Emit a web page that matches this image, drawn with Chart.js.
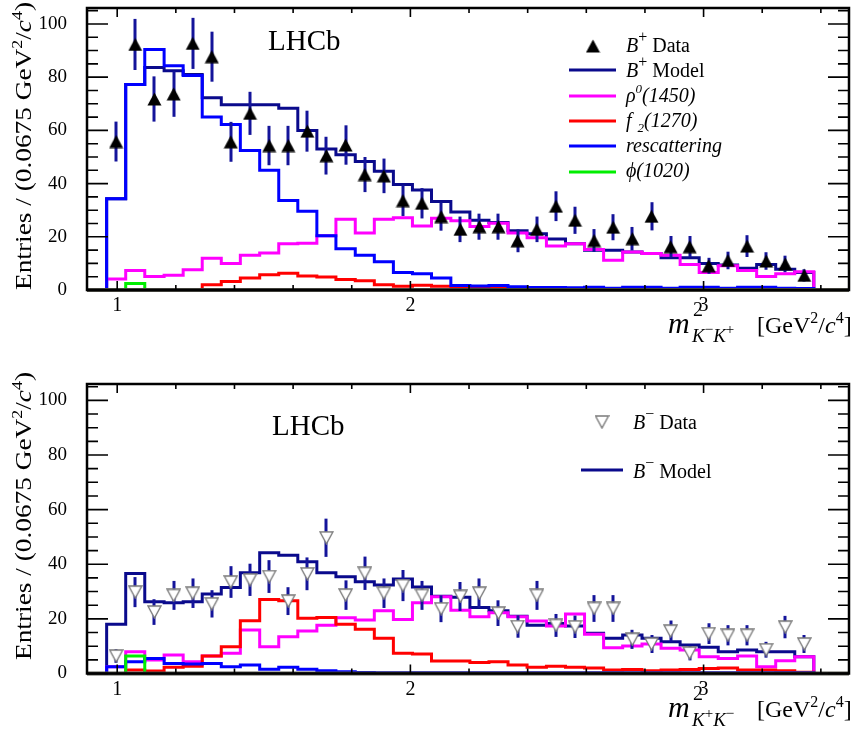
<!DOCTYPE html>
<html><head><meta charset="utf-8">
<script src="https://cdn.jsdelivr.net/npm/chart.js@4.4.1/dist/chart.umd.min.js"></script>
<style>
html,body{margin:0;padding:0;background:#fff;}
#wrap{position:relative;width:857px;height:740px;overflow:hidden;}
.pane{position:absolute;left:0;width:857px;height:370px;}
canvas{display:block;}
</style></head><body>
<div id="wrap">
<div class="pane" style="top:0"><canvas id="c1" width="857" height="370"></canvas></div>
<div class="pane" style="top:370px"><canvas id="c2" width="857" height="370"></canvas></div>
</div>
<script>
// ---------- data ----------
const binEdges = [0.964,1.029,1.094,1.160,1.225,1.290,1.355,1.420,1.486,1.551,1.616,1.681,1.746,1.812,1.877,1.942,2.007,2.072,2.138,2.203,2.268,2.333,2.398,2.464,2.529,2.594,2.659,2.724,2.790,2.855,2.920,2.985,3.050,3.116,3.181,3.246,3.311,3.376];
const xTickValues = [1,2,3];
const yTickValues = [0,20,40,60,80,100];

// B+ panel
const plusData  = [55.8,92.3,71.8,73.7,92.7,87.7,55.7,66.4,54.3,54.3,59.7,50.5,54.5,43.4,42.9,33.6,32.6,27.6,22.8,23.8,23.8,18.5,22.8,31.5,26.2,18.6,23.6,19.3,27.7,16.3,16.3,9.1,11.1,16.5,10.9,9.8,5.5];
const plusErr   = [7.5,9.6,8.5,8.6,9.6,9.4,7.5,8.1,7.4,7.4,7.7,7.1,7.4,6.6,6.5,5.8,5.7,5.3,4.8,4.9,4.9,4.3,4.8,5.6,5.1,4.3,4.9,4.4,5.3,4.0,4.0,3.0,3.3,4.1,3.3,3.1,2.3];
const plusModel = [34.3,77.2,83.6,82.4,81.0,72.3,69.6,69.6,69.6,68.3,60.0,53.0,50.8,48.3,44.6,39.7,37.6,33.3,29.3,26.2,25.4,22.3,21.1,19.2,17.4,14.9,14.9,14.3,13.7,12.1,12.1,10.0,9.4,8.2,9.6,7.8,6.6];
const plusRho   = [4.1,7.3,5.1,5.5,7.6,11.9,10.0,13.1,13.9,17.4,17.6,20.4,26.6,21.4,26.6,27.2,24.1,27.0,26.0,23.9,25.1,21.4,19.6,16.5,17.4,15.2,11.2,14.3,13.7,13.1,9.6,6.6,9.1,7.3,5.1,6.1,6.9];
const plusF2    = [0,0,0,0,0,2.0,3.2,4.5,5.7,6.3,5.3,4.9,3.9,3.5,2.0,1.4,1.8,1.4,1.0,0.9,0.8,0.7,0.6,0.5,0.5,0.4,0.4,0.4,0.3,0.3,0.3,0.3,0.2,0.2,0.2,0.2,0.2];
const plusResc  = [34.3,77.2,90.4,84.3,80.6,65.0,62.2,52.4,45.0,33.6,29.6,20.4,15.5,13.1,10.6,6.6,6.1,4.5,1.7,1.5,1.7,1.2,0.9,0.9,0.8,1.0,0.7,1.0,1.0,0.7,1.0,1.0,0.7,1.0,1.0,0.7,0.6];
const plusPhi   = [0,2.4,0,0,0,0,0,0,0,0,0,0,0,0,0,0,0,0,0,0,0,0,0,0,0,0,0,0,0,0,0,0,0,0,0,0,0];

// B- panel
const minusData  = [6.4,29.8,22.5,28.6,29.4,25.5,33.5,34.3,35.5,26.5,36.5,49.7,28.7,36.7,29.4,32.2,28.6,23.7,28.2,29.4,22.1,17.2,28.6,17.6,17.1,23.8,23.8,12.5,10.8,15.5,7.5,14.6,14.0,14.0,8.7,17.0,10.8];
const minusErr   = [2.5,5.5,4.7,5.3,5.4,5.0,5.8,5.9,6.0,5.1,6.0,7.0,5.4,6.1,5.4,5.7,5.3,4.9,5.3,5.4,4.7,4.1,5.3,4.2,4.1,4.9,4.9,3.5,3.3,3.9,2.7,3.8,3.7,3.7,2.9,4.1,3.3];
const minusModel = [18.0,36.6,26.3,25.9,26.3,29.1,31.5,36.9,44.2,43.3,40.9,36.9,35.4,33.6,32.4,34.6,31.7,28.3,27.9,24.2,23.0,21.0,17.7,18.3,17.4,14.7,12.9,14.1,12.9,11.6,10.4,9.6,8.0,8.6,8.0,8.0,6.1];
const minusRho   = [2.5,8.0,4.9,6.8,4.3,6.4,7.4,15.9,9.8,13.5,15.6,17.7,20.4,19.6,23.0,19.8,25.9,28.1,23.2,20.8,22.2,20.8,19.2,17.4,21.8,14.4,9.4,10.1,10.8,9.2,8.6,6.1,5.5,6.4,2.5,4.7,6.1];
const minusF2    = [0,1.3,0.9,2.3,2.7,6.4,9.8,19.3,27.1,26.6,20.2,20.5,18.0,16.2,12.9,7.4,7.1,4.6,4.6,4.0,4.3,3.1,2.3,2.7,2.3,2.0,1.3,1.5,1.0,1.3,1.5,1.8,2.0,1.3,1.3,1.0,0.5];
const minusResc  = [2.5,4.3,5.5,3.7,3.5,3.7,2.5,3.1,1.6,2.3,1.6,1.0,0.6,0.4,0.3,0.3,0.3,0.3,0.3,0.3,0.3,0.3,0.3,0.3,0.3,0.3,0.3,0.3,0.3,0.3,0.3,0.3,0.3,0.3,0.3,0.3,0.3];
const minusPhi   = [0,6.4,0,0,0,0,0,0,0,0,0,0,0,0,0,0,0,0,0,0,0,0,0,0,0,0,0,0,0,0,0,0,0,0,0,0,0];

// ---------- styling ----------
const SERIF = '"Liberation Serif","Times New Roman",Times,serif';
const F = (s, st) => (st ? st + ' ' : '') + s + 'px ' + SERIF;
const COL = { model:'#0a0a8c', rho:'#ff00ff', f2:'#ff0000', resc:'#0000ff', phi:'#00ee00', err:'#14149a' };

function histPoints(edges, vals){
  const pts = [{x:edges[0], y:0}];
  for (let i = 0; i < vals.length; i++) pts.push({x:edges[i], y:vals[i]});
  pts.push({x:edges[vals.length], y:vals[vals.length-1]});
  pts.push({x:edges[vals.length], y:0});
  return pts;
}
function centers(edges, vals){ return vals.map((v,i)=>({x:(edges[i]+edges[i+1])/2, y:v})); }

function triUp(){
  const c = document.createElement('canvas'); c.width = 15; c.height = 14;
  const g = c.getContext('2d'); g.fillStyle = '#000';
  g.beginPath(); g.moveTo(7.5,0.5); g.lineTo(14.5,13.5); g.lineTo(0.5,13.5); g.closePath(); g.fill();
  return c;
}
function triDown(){
  const c = document.createElement('canvas'); c.width = 15; c.height = 14;
  const g = c.getContext('2d'); g.fillStyle = '#fff'; g.strokeStyle = '#7a7a7a'; g.lineWidth = 1.4;
  g.beginPath(); g.moveTo(1,1); g.lineTo(14,1); g.lineTo(7.5,13); g.closePath(); g.fill(); g.stroke();
  return c;
}
const MK_UP = triUp(), MK_DOWN = triDown();

function drawRich(ctx, segs, x, y){
  for (const s of segs){ ctx.font = s.f; ctx.fillText(s.t, x + (s.dx||0), y + (s.dy||0)); x += ctx.measureText(s.t).width + (s.dx||0); }
  return x;
}
function richWidth(ctx, segs){ let w = 0; for (const s of segs){ ctx.font = s.f; w += ctx.measureText(s.t).width + (s.dx||0); } return w; }
function lineSample(ctx, x1, x2, y, col){ ctx.save(); ctx.strokeStyle = col; ctx.lineWidth = 3; ctx.beginPath(); ctx.moveTo(x1,y); ctx.lineTo(x2,y); ctx.stroke(); ctx.restore(); }

const DECOR = {
  c1: {
    lhcb:[268,50], ytitleTop:2, ytitleLen:288, xtitle:[668,333],
    sub:[{t:'K', f:F(19,'italic')}, {t:'\u2212', f:F(15), dy:-8}, {t:'K', f:F(19,'italic')}, {t:'+', f:F(15), dy:-8}],
    legend(ctx){
      ctx.drawImage(MK_UP, 593 - 7.5, 46 - 7);
      const X = 626, t = 20;
      drawRich(ctx, [{t:'B', f:F(t,'italic')}, {t:'+', f:F(16), dy:-10}, {t:' Data', f:F(t)}], X, 52);
      lineSample(ctx, 569, 616, 70, COL.model);
      drawRich(ctx, [{t:'B', f:F(t,'italic')}, {t:'+', f:F(16), dy:-10}, {t:' Model', f:F(t)}], X, 77);
      lineSample(ctx, 569, 616, 96, COL.rho);
      drawRich(ctx, [{t:'\u03c1', f:F(t,'italic')}, {t:'0', f:F(13,'italic'), dy:-9}, {t:'(1450)', f:F(t,'italic')}], X, 102);
      lineSample(ctx, 569, 616, 121, COL.f2);
      drawRich(ctx, [{t:'f', f:F(t,'italic')}, {t:'2', f:F(13,'italic'), dy:5, dx:6}, {t:'(1270)', f:F(t,'italic')}], X, 127);
      lineSample(ctx, 569, 616, 146, COL.resc);
      drawRich(ctx, [{t:'rescattering', f:F(t,'italic')}], X, 152);
      lineSample(ctx, 569, 616, 172, COL.phi);
      drawRich(ctx, [{t:'\u03d5(1020)', f:F(t,'italic')}], X, 177);
    }
  },
  c2: {
    lhcb:[272,65], ytitleTop:2, ytitleLen:288, xtitle:[668,346.5],
    sub:[{t:'K', f:F(19,'italic')}, {t:'+', f:F(15), dy:-8}, {t:'K', f:F(19,'italic')}, {t:'\u2212', f:F(15), dy:-8}],
    legend(ctx){
      ctx.drawImage(MK_DOWN, 602 - 7.5, 52 - 7);
      const X = 633, t = 20;
      drawRich(ctx, [{t:'B', f:F(t,'italic')}, {t:'\u2212', f:F(16), dy:-10}, {t:' Data', f:F(t)}], X, 59);
      lineSample(ctx, 581, 623, 100, COL.model);
      drawRich(ctx, [{t:'B', f:F(t,'italic')}, {t:'\u2212', f:F(16), dy:-10}, {t:' Model', f:F(t)}], X, 108);
    }
  }
};

const decor = {
  id:'decor',
  beforeDatasetDraw(chart, args){
    const ds = chart.data.datasets[args.index];
    if (!ds.errors) return;
    const ctx = chart.ctx, xs = chart.scales.x, ys = chart.scales.y;
    ctx.save(); ctx.strokeStyle = COL.err; ctx.lineWidth = 3;
    ds.data.forEach((p,i)=>{
      const e = ds.errors[i], x = Math.round(xs.getPixelForValue(p.x));
      ctx.beginPath(); ctx.moveTo(x, ys.getPixelForValue(p.y - e)); ctx.lineTo(x, ys.getPixelForValue(p.y + e)); ctx.stroke();
    });
    ctx.restore();
  },
  afterDraw(chart){
    const o = DECOR[chart.canvas.id], ctx = chart.ctx, a = chart.chartArea;
    const xs = chart.scales.x, ys = chart.scales.y;
    ctx.save();
    ctx.strokeStyle = '#55554d'; ctx.lineWidth = 4;
    ctx.beginPath(); ctx.moveTo(a.left, ys.getPixelForValue(0)); ctx.lineTo(a.right, ys.getPixelForValue(0)); ctx.stroke();
    ctx.strokeStyle = '#000'; ctx.lineWidth = 2.5;
    ctx.strokeRect(a.left, a.top, a.right - a.left, a.bottom - a.top);
    ctx.lineWidth = 1.6;
    for (let v = 0; v <= 105; v += 5){
      const y = ys.getPixelForValue(v), L = (v % 20 === 0) ? 21 : 11;
      ctx.beginPath(); ctx.moveTo(a.left, y); ctx.lineTo(a.left + L, y);
      ctx.moveTo(a.right, y); ctx.lineTo(a.right - L, y); ctx.stroke();
    }
    for (let k = 5; k <= 17; k++){
      const x = xs.getPixelForValue(k / 5);
      if (x < a.left || x > a.right) continue;
      const L = (k % 5 === 0) ? 9 : 5;
      ctx.beginPath(); ctx.moveTo(x, a.bottom); ctx.lineTo(x, a.bottom - L);
      ctx.moveTo(x, a.top); ctx.lineTo(x, a.top + L); ctx.stroke();
    }
    ctx.fillStyle = '#000'; ctx.textBaseline = 'alphabetic'; ctx.textAlign = 'left';
    ctx.font = F(29); ctx.fillText('LHCb', o.lhcb[0], o.lhcb[1]);
    const yt = [{t:'Entries / (0.0675 GeV', f:F(23)}, {t:'2', f:F(15), dy:-9}, {t:'/', f:F(23)}, {t:'c', f:F(23,'italic')}, {t:'4', f:F(15), dy:-9}, {t:')', f:F(23)}];
    const w = richWidth(ctx, yt);
    ctx.save(); ctx.translate(31, o.ytitleTop); ctx.rotate(-Math.PI/2);
    ctx.scale(o.ytitleLen / w, 1);
    drawRich(ctx, yt, -w, 0); ctx.restore();
    const bx = o.xtitle[0], by = o.xtitle[1];
    ctx.font = F(30,'italic'); ctx.fillText('m', bx, by);
    ctx.font = F(20); ctx.fillText('2', bx + 25, by - 17);
    drawRich(ctx, o.sub, bx + 24, by + 9);
    drawRich(ctx, [{t:'[GeV', f:F(24)}, {t:'2', f:F(16), dy:-10}, {t:'/', f:F(24)}, {t:'c', f:F(24,'italic')}, {t:'4', f:F(16), dy:-10}, {t:']', f:F(24)}], bx + 89, by);
    o.legend(ctx);
    ctx.restore();
  }
};

function zeroPad(s){ s.paddingTop = 0; s.paddingBottom = 0; s.paddingLeft = 0; s.paddingRight = 0; }

function makeChart(id, cfg){
  const datasets = [
    {data:centers(binEdges, cfg.data), errors:cfg.err, showLine:false, pointStyle:cfg.marker, pointRadius:7, order:0},
    {data:histPoints(binEdges, cfg.phi), borderColor:COL.phi, order:1},
    {data:histPoints(binEdges, cfg.resc), borderColor:COL.resc, order:1},
    {data:histPoints(binEdges, cfg.f2), borderColor:COL.f2, order:1},
    {data:histPoints(binEdges, cfg.rho), borderColor:COL.rho, order:1},
    {data:histPoints(binEdges, cfg.model), borderColor:COL.model, order:2}
  ];
  datasets.forEach((d,i)=>{ if (i > 0){ d.stepped = 'before'; d.borderWidth = 3; d.pointRadius = 0; d.fill = false; } });
  return new Chart(document.getElementById(id), {
    type:'line',
    data:{datasets},
    options:{
      responsive:false, animation:false, devicePixelRatio:1, events:[],
      layout:{padding:{left:0, right:5, top:cfg.padTop, bottom:0}},
      plugins:{legend:{display:false}, tooltip:{enabled:false}},
      scales:{
        x:{type:'linear', min:0.897, max:3.496,
           afterFit(s){ s.height = cfg.xHeight; zeroPad(s); },
           afterBuildTicks(s){ s.ticks = xTickValues.map(v=>({value:v})); },
           grid:{display:false}, border:{display:false},
           ticks:{padding:-4, color:'#000', font:{family:SERIF, size:20}, maxRotation:0, autoSkip:false, callback:v=>String(v)}},
        y:{type:'linear', min:0, max:106,
           afterFit(s){ s.width = 87; zeroPad(s); },
           afterBuildTicks(s){ s.ticks = yTickValues.map(v=>({value:v})); },
           grid:{display:false}, border:{display:false},
           ticks:{padding:12, color:'#000', font:{family:SERIF, size:19}, callback:v=>String(v)}}
      }
    },
    plugins:[decor]
  });
}

makeChart('c1', {data:plusData, err:plusErr, model:plusModel, rho:plusRho, f2:plusF2, resc:plusResc, phi:plusPhi, marker:MK_UP, padTop:3, xHeight:80});
makeChart('c2', {data:minusData, err:minusErr, model:minusModel, rho:minusRho, f2:minusF2, resc:minusResc, phi:minusPhi, marker:MK_DOWN, padTop:14, xHeight:66.5});
</script>
</body></html>
